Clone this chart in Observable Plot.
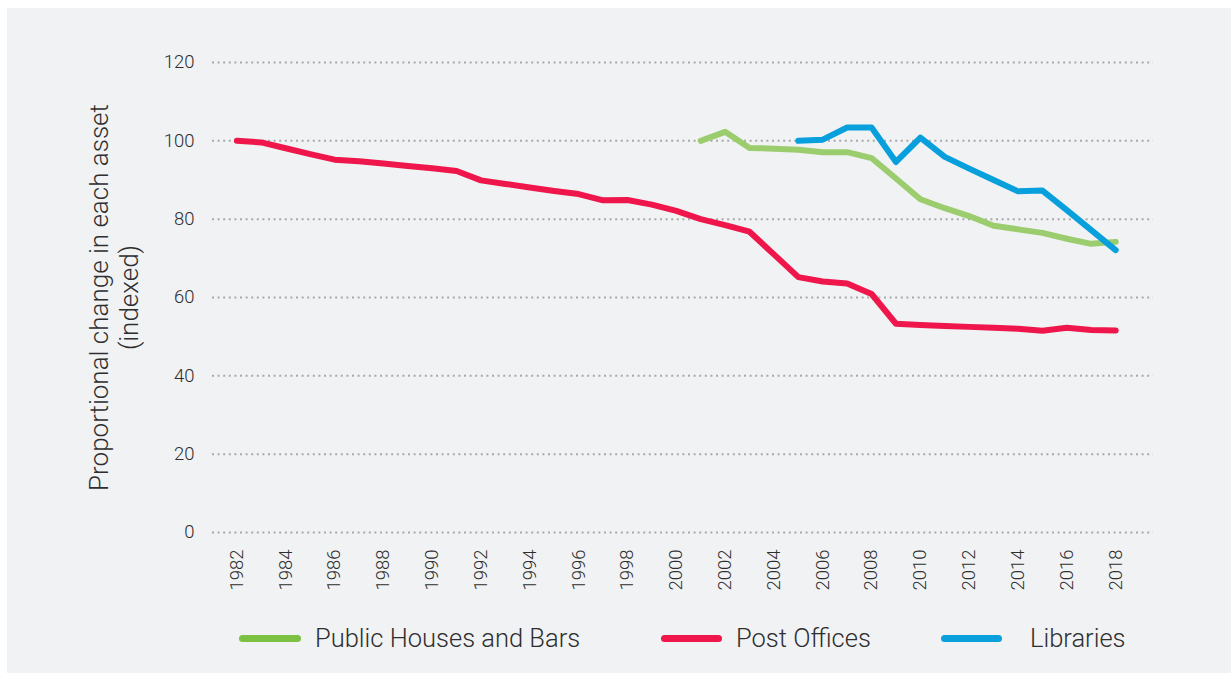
<!DOCTYPE html>
<html><head><meta charset="utf-8">
<script src="https://cdn.jsdelivr.net/npm/d3@7"></script>
<script src="https://cdn.jsdelivr.net/npm/@observablehq/plot@0.6"></script>
<style>
html,body{margin:0;padding:0;background:#fff;}
body{width:1231px;height:673px;overflow:hidden;font-family:Roboto,"Noto Sans",sans-serif;}
#panel{position:absolute;left:7px;top:8px;width:1224px;height:665px;background:#f1f2f4;}
#chart{position:absolute;left:0;top:0;}
.lg-line{position:absolute;height:7px;border-radius:3.5px;}
.lg-text{position:absolute;font-size:25.5px;font-weight:300;color:#2e2e2e;line-height:30px;white-space:nowrap;}
</style></head>
<body>
<div id="panel"><div id="chart"></div><div id="legend"></div></div>
<script>
const years = d3.range(1982, 2019);
const seriesNames = ["Public Houses and Bars", "Post Offices", "Libraries"];
const lineColors = ["#9bcd6f", "#ee164a", "#079fdc"];
const legendColors = ["#7dc142", "#ee164a", "#0aa0dc"];
const yTicks = [0, 20, 40, 60, 80, 100, 120];
const xTicks = d3.range(1982, 2019, 2);

const postOffices = [100, 99.6, 98.1, 96.6, 95.2, 94.8, 94.2, 93.6, 93.0, 92.3, 89.9, 89.0, 88.1, 87.2, 86.4, 84.8, 84.9, 83.7, 82.1, 80.0, 78.5, 76.8, 71.0, 65.2, 64.1, 63.6, 60.9, 53.3, 53.0, 52.7, 52.5, 52.3, 52.0, 51.5, 52.3, 51.7, 51.6];
const pubYears = d3.range(2001, 2019);
const pubs = [100, 102.3, 98.2, 98.0, 97.7, 97.1, 97.1, 95.6, 90.4, 85.1, 82.8, 80.8, 78.3, 77.4, 76.5, 75.0, 73.7, 74.2];
const libYears = d3.range(2005, 2019);
const libraries = [100, 100.3, 103.4, 103.4, 94.6, 100.8, 95.9, 92.9, 90.0, 87.1, 87.3, 82.3, 77.2, 72.1];

const rows = [
  ...pubYears.map((y, i) => ({series: seriesNames[0], year: y, value: pubs[i]})),
  ...years.map((y, i) => ({series: seriesNames[1], year: y, value: postOffices[i]})),
  ...libYears.map((y, i) => ({series: seriesNames[2], year: y, value: libraries[i]}))
];

const W = 1224, H = 600;
const chart = Plot.plot({
  width: W, height: H,
  marginLeft: 205, marginRight: 78, marginTop: 54, marginBottom: 76,
  style: {background: "transparent", fontFamily: "Roboto, 'Noto Sans', sans-serif", color: "#2e2e2e"},
  x: {domain: [1981, 2019.55]},
  y: {domain: [0, 120]},
  color: {domain: seriesNames, range: lineColors},
  marks: [
    Plot.ruleY(yTicks, {stroke: "#a9a9a9", strokeWidth: 2, strokeDasharray: "2,3.6"}),
    Plot.axisY({ticks: yTicks, tickSize: 0, tickPadding: 18, fontSize: 18.5, fontWeight: 300, label: null}),
    Plot.axisX({ticks: xTicks, tickFormat: d => String(d), tickRotate: -90, tickSize: 0, tickPadding: 17, fontSize: 18.5, fontWeight: 300, label: null}),
    Plot.text(["Proportional change in each asset\n(indexed)"], {
      frameAnchor: "left", dx: -99, rotate: -90, fontSize: 26, fontWeight: 300,
      lineHeight: 1.15, textAnchor: "middle", fill: "#2e2e2e"
    }),
    Plot.line(rows, {x: "year", y: "value", stroke: "series", z: "series", strokeWidth: 6, strokeLinejoin: "round", strokeLinecap: "round"})
  ]
});
document.getElementById("chart").appendChild(chart);

const legendPos = [
  {lx: 232, lw: 62, tx: 308},
  {lx: 654, lw: 61, tx: 729},
  {lx: 934, lw: 61, tx: 1023}
];
const legend = document.getElementById("legend");
seriesNames.forEach((name, i) => {
  const l = document.createElement("div");
  l.className = "lg-line";
  l.style.left = legendPos[i].lx + "px";
  l.style.width = legendPos[i].lw + "px";
  l.style.top = (630 - 3.5) + "px";
  l.style.background = legendColors[i];
  legend.appendChild(l);
  const t = document.createElement("div");
  t.className = "lg-text";
  t.style.left = legendPos[i].tx + "px";
  t.style.top = (630 - 15) + "px";
  t.textContent = name;
  legend.appendChild(t);
});
</script>
</body></html>
